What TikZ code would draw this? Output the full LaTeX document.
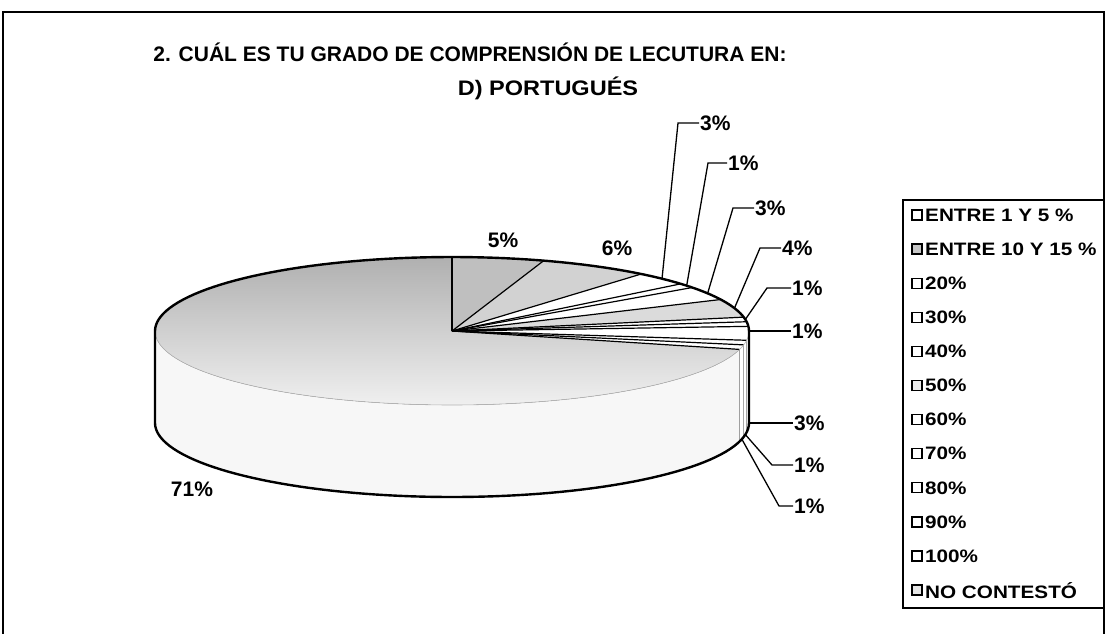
\documentclass[tikz,border=0pt]{standalone}
\usepackage{fontspec}
\setmainfont{Liberation Sans}
\newfontfamily\boldfont{Liberation Sans Bold}

\begin{document}
\begin{tikzpicture}[x=1pt,y=-1pt]
	\tikzstyle{pct}=[font=\boldfont\fontsize{21}{21}\selectfont,inner sep=1]
	\tikzstyle{leader}=[line width=1.3]
	\tikzset{
		heading/.style={font=\boldfont\fontsize{21}{21}\selectfont,inner sep=0},
		rim/.style={line width=2.4,line join=round},
		key/.style={draw,line width=1.3,minimum size=10,inner sep=0},
		entry/.style={font=\boldfont\fontsize{18}{18}\selectfont,anchor=west,inner sep=0}
	}
	\useasboundingbox (0,0) rectangle (1105,633);
	\def\cx{452} \def\cy{331} \def\rx{297} \def\ry{74} \def\dep{92}

	% outer frame and title
	\draw[line width=1.4] (3,700) -- (3,12) -- (1104,12) -- (1104,700);
	\node(t1)[heading] at (470,52) {2. CUÁL ES TU GRADO DE COMPRENSIÓN DE LECUTURA EN:};
	\node(t2)[heading] at (548,88) {\scalebox{1.12}[1]{D) PORTUGUÉS}};

	% side of the pie
	\foreach \a/\b/\c in {90/97.2/white,97.2/100.8/white,100.8/104.4/white,104.4/270/gray!6}{
		\fill[\c] plot[domain=\a:\b,samples=40,variable=\t] ({\cx+\rx*sin(\t)},{\cy-\ry*cos(\t)})
			-- plot[domain=\b:\a,samples=40,variable=\t] ({\cx+\rx*sin(\t)},{\cy+\dep-\ry*cos(\t)}) -- cycle;
		\draw[line width=.8] ({\cx+\rx*sin(\b)},{\cy-\ry*cos(\b)}) -- ({\cx+\rx*sin(\b)},{\cy+\dep-\ry*cos(\b)});
	}

	% top of the pie
	\fill[top color=gray!62,bottom color=gray!12] (\cx,\cy) -- plot[domain=104.4:360,samples=80,variable=\t] ({\cx+\rx*sin(\t)},{\cy-\ry*cos(\t)}) -- cycle;
	\foreach \a/\b/\c in {0/18/gray!50,18/39.6/gray!35,39.6/50.4/white,50.4/54/white,54/64.8/white,
		64.8/79.2/gray!28,79.2/82.8/white,82.8/86.4/white,86.4/97.2/white,97.2/100.8/white,100.8/104.4/white}{
		\fill[\c] (\cx,\cy) -- plot[domain=\a:\b,samples=20,variable=\t] ({\cx+\rx*sin(\t)},{\cy-\ry*cos(\t)}) -- cycle;
	}
	\foreach \a in {0,18,39.6,50.4,54,64.8,79.2,82.8,86.4,97.2,100.8,104.4}
		\draw[line width=1.2] (\cx,\cy) -- ({\cx+\rx*sin(\a)},{\cy-\ry*cos(\a)});

	% outline
	\draw[gray!60,line width=.6] plot[domain=90:270,samples=80,variable=\t] ({\cx+\rx*sin(\t)},{\cy-\ry*cos(\t)});
	\draw[rim] plot[domain=-90:90,samples=80,variable=\t] ({\cx+\rx*sin(\t)},{\cy-\ry*cos(\t)});
	\draw[rim] (\cx-\rx,\cy) -- (\cx-\rx,\cy+\dep)
		plot[domain=270:90,samples=80,variable=\t] ({\cx+\rx*sin(\t)},{\cy+\dep-\ry*cos(\t)})
		-- (\cx+\rx,\cy);

	% labels without leaders
	\node(p5)[pct] at (503,240) {5\%};
	\node(p6)[pct] at (617,248) {6\%};
	\node(p71)[pct] at (192,489) {71\%};

	% labels with leaders
	\coordinate(r3a) at ({\cx+\rx*sin(45)},{\cy-\ry*cos(45)});
	\coordinate(r1a) at ({\cx+\rx*sin(52.2)},{\cy-\ry*cos(52.2)});
	\coordinate(r3b) at ({\cx+\rx*sin(59.4)},{\cy-\ry*cos(59.4)});
	\coordinate(r4) at ({\cx+\rx*sin(72)},{\cy-\ry*cos(72)});
	\coordinate(r1b) at ({\cx+\rx*sin(81)},{\cy-\ry*cos(81)});
	\coordinate(r1c) at (\cx+\rx,\cy);
	\coordinate(r3c) at (\cx+\rx,\cy+\dep);
	\coordinate(r1d) at ({\cx+\rx*sin(99)},{\cy+\dep-\ry*cos(99)});
	\coordinate(r1e) at ({\cx+\rx*sin(102.6)},{\cy+\dep-\ry*cos(102.6)});
	\coordinate(k3a) at (678,123);
	\coordinate(k1a) at (708,163);
	\coordinate(k3b) at (733,208);
	\coordinate(k4) at (760,248);
	\coordinate(k1b) at (767,288);
	\coordinate(k1d) at (772,465);
	\coordinate(k1e) at (779,506);
	\node(l3a)[pct,anchor=west] at (699,123) {3\%};
	\node(l1a)[pct,anchor=west] at (727,163) {1\%};
	\node(l3b)[pct,anchor=west] at (754,208) {3\%};
	\node(l4)[pct,anchor=west] at (781,248) {4\%};
	\node(l1b)[pct,anchor=west] at (791,288) {1\%};
	\node(l1c)[pct,anchor=west] at (791,331) {1\%};
	\node(l3c)[pct,anchor=west] at (793,423) {3\%};
	\node(l1d)[pct,anchor=west] at (793,465) {1\%};
	\node(l1e)[pct,anchor=west] at (793,506) {1\%};
	\draw[leader] (r3a) -- (k3a) -- (l3a.west);
	\draw[leader] (r1a) -- (k1a) -- (l1a.west);
	\draw[leader] (r3b) -- (k3b) -- (l3b.west);
	\draw[leader] (r4) -- (k4) -- (l4.west);
	\draw[leader] (r1b) -- (k1b) -- (l1b.west);
	\draw[leader] (r1c) -- (l1c.west);
	\draw[leader] (r3c) -- (l3c.west);
	\draw[leader] (r1d) -- (k1d) -- (l1d.west);
	\draw[leader] (r1e) -- (k1e) -- (l1e.west);

	% legend
	\draw[line width=1.3] (903,200) rectangle (1112,608);
	\foreach \t/\c [count=\i from 0] in {ENTRE 1 Y 5 \%/white,ENTRE 10 Y 15 \%/gray!45,20\%/white,30\%/white,
		40\%/white,50\%/gray!15,60\%/white,70\%/white,80\%/white,90\%/white,100\%/white,NO CONTESTÓ/gray!20}{
		\node(key\i)[key,fill=\c] at (917,215+34.1*\i) {};
		\node(entry\i)[entry] at (925,215+34.1*\i) {\scalebox{1.15}[1]{\t}};
	}
\end{tikzpicture}
\end{document}
